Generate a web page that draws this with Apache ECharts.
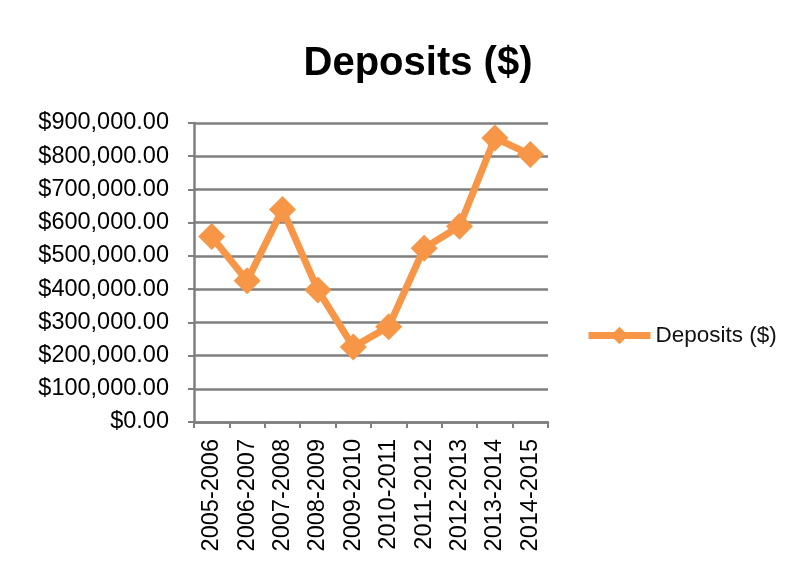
<!DOCTYPE html>
<html>
<head>
<meta charset="utf-8">
<script src="https://cdn.jsdelivr.net/npm/echarts@6/dist/echarts.min.js"></script>
<style>html,body{margin:0;padding:0;background:#fff;}#c{width:788px;height:568px;}</style>
</head>
<body>
<div id="c"></div>
<script>
const categories = ['2005-2006','2006-2007','2007-2008','2008-2009','2009-2010','2010-2011','2011-2012','2012-2013','2013-2014','2014-2015'];
const deposits = [558000, 425000, 640000, 397000, 226000, 287000, 523000, 589000, 855000, 805000];
const seriesName = 'Deposits ($)';
const titleText = 'Deposits ($)';

const chart = echarts.init(document.getElementById('c'), null, {renderer: 'canvas'});
const font = 'Liberation Sans';
chart.setOption({
  backgroundColor: '#ffffff',
  animation: false,
  title: {
    text: titleText,
    left: 413, top: 39, textAlign: 'center',
    textStyle: {fontFamily: font, fontWeight: 'bold', fontSize: 40, color: '#000'}
  },
  legend: {
    data: [seriesName],
    left: 580, top: 319,
    itemWidth: 62, itemHeight: 22, itemGap: 4,
    lineStyle: {width: 7},
    textStyle: {fontFamily: font, fontSize: 22.5, color: '#111'}
  },
  grid: {left: 194, right: 240, top: 123, bottom: 146, containLabel: false},
  xAxis: {
    type: 'category', data: categories, boundaryGap: true,
    axisLine: {lineStyle: {color: '#7f7f7f', width: 2.5}},
    axisTick: {show: true, alignWithLabel: false, length: 6, lineStyle: {color: '#7f7f7f', width: 2}},
    axisLabel: {rotate: 90, interval: 0, margin: 17, fontFamily: font, fontSize: 23.5, color: '#000'}
  },
  yAxis: {
    type: 'value', min: 0, max: 900000, interval: 100000,
    axisLine: {show: true, lineStyle: {color: '#7f7f7f', width: 2.5}},
    axisTick: {show: true, inside: false, length: 6, lineStyle: {color: '#7f7f7f', width: 2}},
    splitLine: {show: true, lineStyle: {color: '#7f7f7f', width: 2.5}},
    axisLabel: {
      margin: 25, fontFamily: font, fontSize: 23.5, color: '#000',
      formatter: v => '$' + v.toLocaleString('en-US', {minimumFractionDigits: 2, maximumFractionDigits: 2})
    }
  },
  series: [{
    name: seriesName, type: 'line', data: deposits,
    symbol: 'diamond', symbolSize: 27,
    lineStyle: {color: '#F79646', width: 7},
    itemStyle: {color: '#F79646'}
  }]
});
</script>
</body>
</html>
